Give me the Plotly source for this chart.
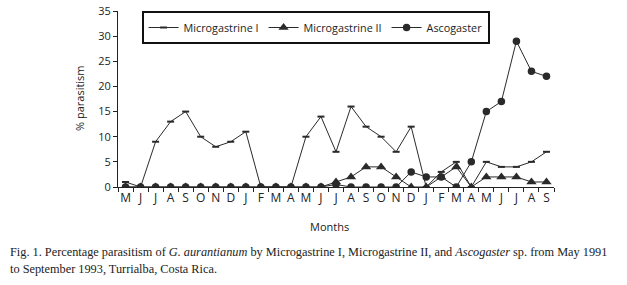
import plotly.graph_objects as go

months = ["May91","Jun91","Jul91","Aug91","Sep91","Oct91","Nov91","Dec91",
          "Jan92","Feb92","Mar92","Apr92","May92","Jun92","Jul92","Aug92","Sep92","Oct92","Nov92","Dec92",
          "Jan93","Feb93","Mar93","Apr93","May93","Jun93","Jul93","Aug93","Sep93"]
month_letters = ["M","J","J","A","S","O","N","D","J","F","M","A","M","J","J","A","S","O","N","D",
                 "J","F","M","A","M","J","J","A","S"]
micro_I = [1,0,9,13,15,10,8,9,11,0,0,0,10,14,7,16,12,10,7,12,0,3,5,0,5,4,4,5,7]
micro_II = [0,0,0,0,0,0,0,0,0,0,0,0,0,0,1,2,4,4,2,0,0,2,4,0,2,2,2,1,1]
ascogaster = [0,0,0,0,0,0,0,0,0,0,0,0,0,0,0.5,0,0,0,0,3,2,2,0,5,15,17,29,23,22]
y_ticks = [0,5,10,15,20,25,30,35]

FONT = "Open Sans"
LC = "#2a2a2a"

fig = go.Figure()
fig.add_trace(go.Scatter(x=months, y=micro_I, name="Microgastrine I", mode="lines+markers",
                         line=dict(color=LC, width=1),
                         marker=dict(symbol="line-ew", size=5, color=LC, line=dict(color=LC, width=2))))
fig.add_trace(go.Scatter(x=months, y=micro_II, name="Microgastrine II", mode="lines+markers",
                         line=dict(color=LC, width=1),
                         marker=dict(symbol="triangle-up", size=9, color=LC)))
fig.add_trace(go.Scatter(x=months, y=ascogaster, name="Ascogaster", mode="lines+markers",
                         line=dict(color=LC, width=1),
                         marker=dict(symbol="circle", size=7.5, color=LC)))

fig.update_layout(
    width=627, height=285,
    margin=dict(l=118, r=73, t=11, b=98, autoexpand=False),
    paper_bgcolor="white", plot_bgcolor="white",
    font=dict(family=FONT, size=11, color="#222"),
    showlegend=True,
    legend=dict(orientation="h", x=0.054, y=1.0, xanchor="left", yanchor="top",
                bordercolor="#111", borderwidth=2, bgcolor="white",
                font=dict(family=FONT, size=10.8, color="#222"),
                itemwidth=30, tracegroupgap=0),
    xaxis=dict(type="category", range=[-0.5, 28.5], tickmode="array", tickvals=months,
               ticktext=month_letters, tickson="boundaries", ticks="outside", ticklen=4,
               tickangle=0, automargin=False,
               tickcolor="#222", showline=True, linecolor="#222", linewidth=1,
               showgrid=False, zeroline=False, tickfont=dict(family=FONT, size=12, color="#222")),
    yaxis=dict(range=[0, 35], tickmode="array", tickvals=y_ticks, ticks="outside", ticklen=4,
               automargin=False, ticklabeloverflow="allow",
               tickcolor="#222", showline=True, linecolor="#222", linewidth=1,
               showgrid=False, zeroline=False, tickfont=dict(family=FONT, size=11, color="#222")),
)

fig.add_annotation(text="% parasitism", textangle=-90, xref="paper", yref="paper",
                   x=-0.087, y=0.506, xanchor="center", yanchor="middle", showarrow=False,
                   font=dict(family=FONT, size=11, color="#222"))
fig.add_annotation(text="Months", xref="paper", yref="paper",
                   x=0.486, y=-0.222, xanchor="center", yanchor="middle", showarrow=False,
                   font=dict(family=FONT, size=11, color="#222"))
fig.add_annotation(text="Fig. 1. Percentage parasitism of <i>G. aurantianum</i> by Microgastrine I, Microgastrine II, and <i>Ascogaster</i> sp. from May 1991",
                   xref="paper", yref="paper", x=(8-118)/436, y=(187-252)/176,
                   xanchor="left", yanchor="middle", showarrow=False,
                   font=dict(family="Liberation Serif", size=12.3, color="#222"))
fig.add_annotation(text="to September 1993, Turrialba, Costa Rica.",
                   xref="paper", yref="paper", x=(8-118)/436, y=(187-269)/176,
                   xanchor="left", yanchor="middle", showarrow=False,
                   font=dict(family="Liberation Serif", size=12.3, color="#222"))

fig.write_html("out.html", config={"displayModeBar": False},
               post_script="document.body.style.margin='0';")
